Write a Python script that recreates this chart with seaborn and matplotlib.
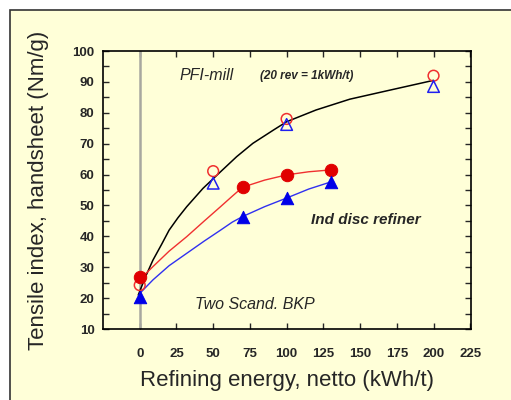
import numpy as np
import pandas as pd
import matplotlib
matplotlib.use("Agg")
import matplotlib.pyplot as plt
from matplotlib.patches import Rectangle
from matplotlib.ticker import MultipleLocator
import seaborn as sns

sns.set_style("ticks")
plt.rcParams['font.family'] = ['Liberation Sans', 'DejaVu Sans']

# measured points
pfi_x = [0, 50, 100, 200]
pfi_circle_y = [24.2, 61.1, 78.0, 92.0]
pfi_tri_x = [50, 100, 200]
pfi_tri_y = [57.2, 76.2, 88.5]

disc_x = [0, 70, 100, 130]
disc_circle_y = [26.7, 55.9, 59.9, 61.4]
disc_tri_y = [20.4, 46.4, 52.4, 57.6]

# fitted curves
black_x = [-1, 4, 9, 15, 20, 26, 32, 43, 55, 66, 77, 91, 100, 120, 143, 170, 200]
black_y = [21.0, 27.0, 32.3, 37.5, 42.0, 46.0, 49.6, 55.5, 60.9, 65.8, 70.1, 74.4, 77.1,
           80.9, 84.4, 87.3, 90.5]
red_x = [0, 9, 20, 32, 44, 55, 63, 70, 85, 100, 115, 130]
red_y = [26.0, 30.2, 35.2, 39.9, 45.0, 49.6, 53.0, 55.9, 58.2, 59.9, 60.9, 61.5]
blue_x = [0, 9, 20, 32, 44, 55, 63, 70, 85, 100, 115, 130]
blue_y = [21.5, 25.9, 30.5, 34.5, 38.5, 42.0, 44.6, 46.4, 49.6, 52.4, 55.3, 57.6]

xticks = [0, 25, 50, 75, 100, 125, 150, 175, 200, 225]
yticks = [10, 20, 30, 40, 50, 60, 70, 80, 90, 100]

bg = '#FFFFD8'
fig = plt.figure(figsize=(5.11, 4.0), dpi=100)
fig.patch.set_facecolor('white')
frame = Rectangle((10 / 511, -0.1), 1.2, 1 - 10 / 400 + 0.1,
                  transform=fig.transFigure, facecolor=bg,
                  edgecolor='#333333', linewidth=1.2, zorder=-10)
fig.add_artist(frame)

ax = fig.add_axes([103 / 511, 1 - 329 / 400, 368 / 511, 278 / 400])
ax.set_facecolor(bg)

ax.axvline(0, color='#A8A8A0', lw=1.8, zorder=1)

sns.lineplot(x=black_x, y=black_y, color='black', lw=1.1, ax=ax, sort=False)
sns.lineplot(x=red_x, y=red_y, color='#F03030', lw=1.0, ax=ax, sort=False)
sns.lineplot(x=blue_x, y=blue_y, color='#3030F0', lw=1.0, ax=ax, sort=False)

sns.scatterplot(x=pfi_x, y=pfi_circle_y, marker='o', s=60, facecolor='none',
                edgecolor='#F03030', linewidth=1.1, ax=ax, zorder=5)
sns.scatterplot(x=pfi_tri_x, y=pfi_tri_y, marker='^', s=70, facecolor='none',
                edgecolor='#2020F0', linewidth=1.1, ax=ax, zorder=5)
sns.scatterplot(x=disc_x, y=disc_circle_y, marker='o', s=80, color='#E00000',
                edgecolor='#E00000', ax=ax, zorder=6)
sns.scatterplot(x=disc_x, y=disc_tri_y, marker='^', s=80, color='#0000E8',
                edgecolor='#0000E8', ax=ax, zorder=6)

ax.set_xlim(-25, 225.5)
ax.set_ylim(10, 100)
ax.set_xticks(xticks)
ax.set_yticks(yticks)
ax.yaxis.set_minor_locator(MultipleLocator(5))
ax.tick_params(which='both', direction='in', top=True, right=True,
               length=4, width=1, labelsize=9.5, pad=6)
for lbl in ax.get_xticklabels() + ax.get_yticklabels():
    lbl.set_fontweight('bold')
ax.tick_params(axis='x', pad=14)
for sp in ax.spines.values():
    sp.set_linewidth(1.2)
    sp.set_color('black')

ax.set_xlabel('Refining energy, netto (kWh/t)', fontsize=16, labelpad=7)
ax.set_ylabel('Tensile index, handsheet (Nm/g)', fontsize=16, labelpad=17)

ax.text(27, 92.2, 'PFI-mill', fontsize=11.5, style='italic', ha='left', va='center')
ax.text(82, 92.0, '(20 rev = 1kWh/t)', fontsize=8.5, style='italic',
        fontweight='bold', ha='left', va='center')
ax.text(116.5, 45.3, 'Ind disc refiner', fontsize=11, style='italic',
        fontweight='bold', ha='left', va='center')
ax.text(37.5, 17.8, 'Two Scand. BKP', fontsize=11.5, style='italic',
        ha='left', va='center')

fig.savefig('out.png', dpi=100, facecolor=fig.get_facecolor())
